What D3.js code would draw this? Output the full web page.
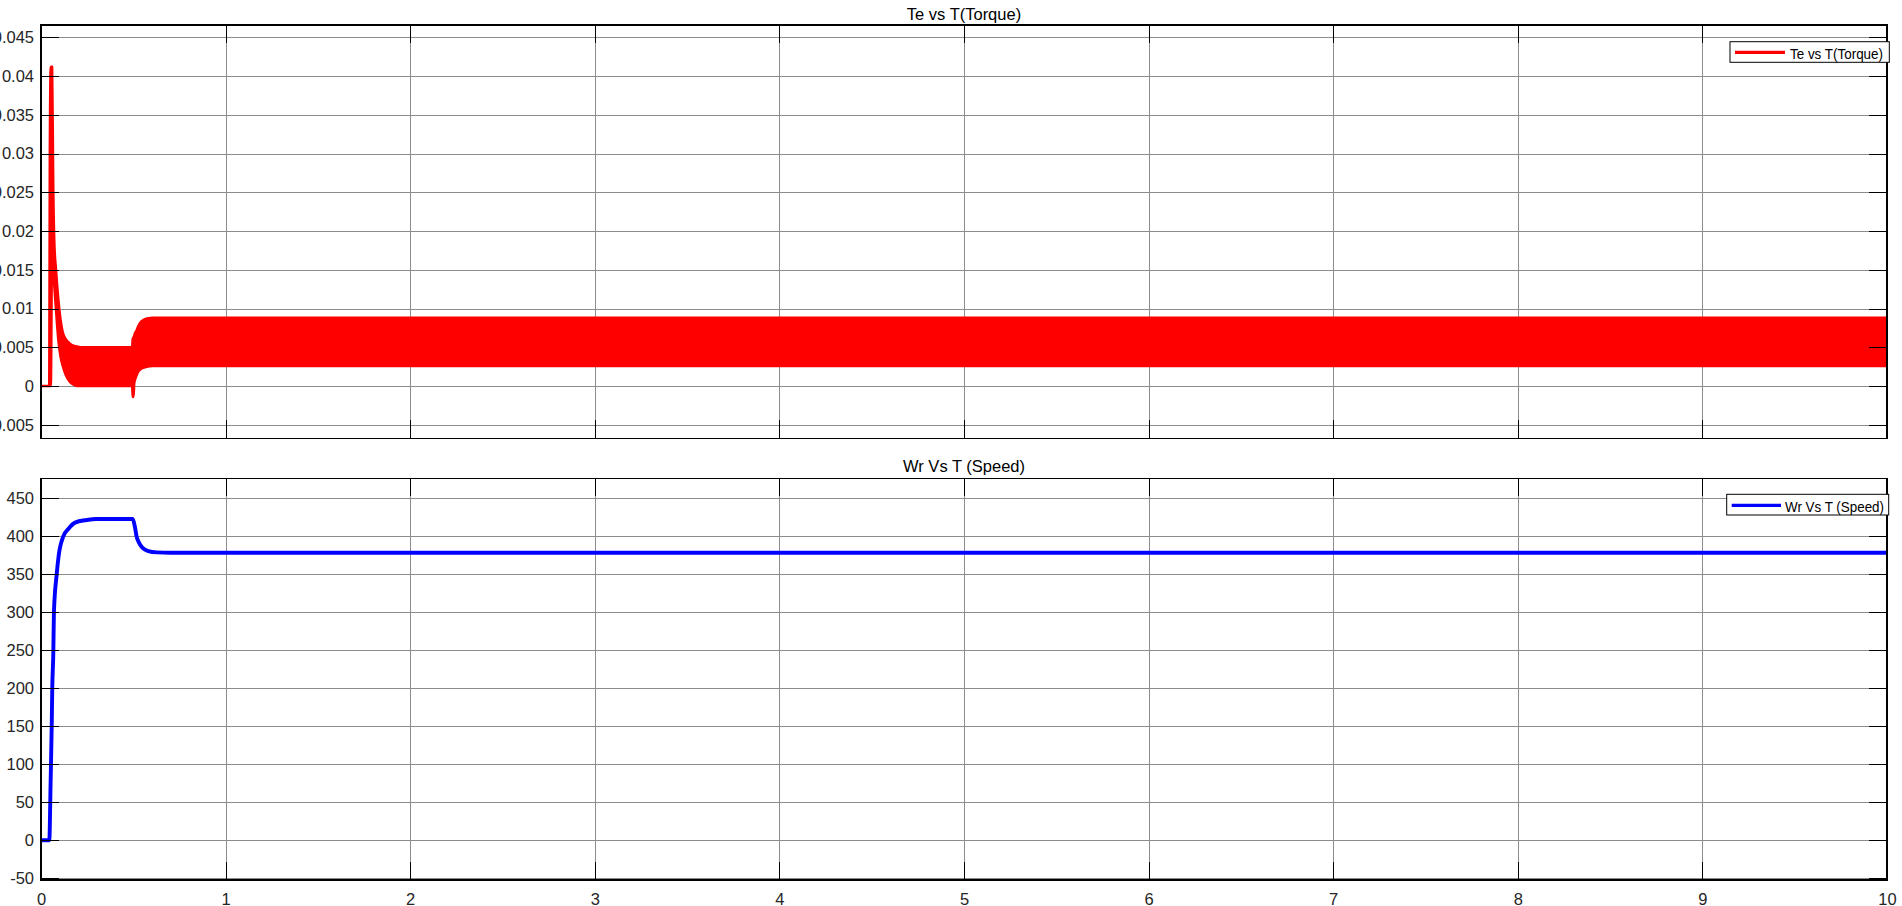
<!DOCTYPE html>
<html>
<head>
<meta charset="utf-8">
<script src="https://cdn.jsdelivr.net/npm/d3@7"></script>
<style>
  html, body { margin: 0; padding: 0; background: #fff; overflow: hidden; }
  svg { display: block; font-family: "Liberation Sans", Arial, sans-serif; }
</style>
</head>
<body>
<svg id="chart" width="1902" height="906"></svg>
<script>
// ---------- data ----------
const xTicks = [0, 1, 2, 3, 4, 5, 6, 7, 8, 9, 10];
const xTickLabels = ["0", "1", "2", "3", "4", "5", "6", "7", "8", "9", "10"];

const torqueTicks = [-0.005, 0, 0.005, 0.01, 0.015, 0.02, 0.025, 0.03, 0.035, 0.04, 0.045];
const torqueTickLabels = ["-0.005", "0", "0.005", "0.01", "0.015", "0.02", "0.025", "0.03", "0.035", "0.04", "0.045"];

const speedTicks = [-50, 0, 50, 100, 150, 200, 250, 300, 350, 400, 450];
const speedTickLabels = ["-50", "0", "50", "100", "150", "200", "250", "300", "350", "400", "450"];

// Torque: envelope (upper / lower) of the fast oscillating signal
const torqueTime  = [0, 0.045, 0.048, 0.053, 0.060, 0.066, 0.072, 0.081, 0.094, 0.106, 0.118, 0.135, 0.155, 0.175, 0.193, 0.215, 0.30, 0.40, 0.494, 0.497, 0.501, 0.505, 0.509, 0.518, 0.527, 0.536, 0.554, 0.573, 0.608, 0.65, 1, 2, 3, 4, 5, 6, 7, 8, 9, 10];
const torqueUpper = [0, 0, 0.030, 0.0412, 0.0412, 0.026, 0.0185, 0.0150, 0.0111, 0.0085, 0.0069, 0.0060, 0.0055, 0.0052, 0.0051, 0.0050, 0.0050, 0.0050, 0.0050, 0.0062, 0.0062, 0.0065, 0.0068, 0.0072, 0.0077, 0.0081, 0.0085, 0.0087, 0.0088, 0.0088, 0.0088, 0.0088, 0.0088, 0.0088, 0.0088, 0.0088, 0.0088, 0.0088, 0.0088, 0.0088];
const torqueLower = [0, 0, 0, 0, 0.018, 0.0150, 0.0130, 0.0100, 0.0060, 0.0038, 0.0026, 0.0014, 0.0006, 0.0002, 0, 0, 0, 0, 0, -0.0014, -0.0014, 0.0004, 0.0008, 0.0014, 0.00185, 0.0021, 0.00236, 0.0025, 0.00258, 0.0026, 0.0026, 0.0026, 0.0026, 0.0026, 0.0026, 0.0026, 0.0026, 0.0026, 0.0026, 0.0026];

// Speed
const speedTime  = [0, 0.045, 0.052, 0.058, 0.061, 0.067, 0.070, 0.085, 0.096, 0.121, 0.148, 0.184, 0.248, 0.30, 0.497, 0.509, 0.518, 0.530, 0.545, 0.563, 0.581, 0.627, 0.70, 1, 2, 3, 4, 5, 6, 7, 8, 9, 10];
const speedValue = [0, 0, 75, 150, 200, 250, 300, 350, 375, 400, 409.6, 418, 421.5, 422.8, 422.8, 412, 399.5, 392, 386.3, 382.5, 380.6, 378.8, 378.4, 378.4, 378.4, 378.4, 378.4, 378.4, 378.4, 378.4, 378.4, 378.4, 378.4];

const titles = ["Te vs T(Torque)", "Wr Vs T (Speed)"];
const legendLabels = ["Te vs T(Torque)", "Wr Vs T (Speed)"];

// ---------- layout ----------
const svg = d3.select("#chart");
const L = 41, R = 1887;
const panels = [
  { top: 25, bottom: 438.3, domain: [-0.00675, 0.04659], ticks: torqueTicks, labels: torqueTickLabels, xLabels: false },
  { top: 478.3, bottom: 880, domain: [-52.2, 476.3], ticks: speedTicks, labels: speedTickLabels, xLabels: true }
];

const x = d3.scaleLinear().domain([0, 10]).range([L, R]);
const gridColor = "#8c8c8c";
const fontSize = 16.5;

panels.forEach((p, i) => {
  const y = d3.scaleLinear().domain(p.domain).range([p.bottom, p.top]);
  const W = R - L, H = p.bottom - p.top;
  const g = svg.append("g");

  // grid
  g.append("g").attr("transform", `translate(${L},0)`)
    .call(d3.axisLeft(y).tickValues(p.ticks).tickSize(-W).tickFormat(""))
    .call(s => s.select(".domain").remove())
    .call(s => s.selectAll("line").attr("stroke", gridColor).attr("shape-rendering", "crispEdges"));
  g.append("g").attr("transform", `translate(0,${p.bottom})`)
    .call(d3.axisBottom(x).tickValues(xTicks).tickSize(-H).tickFormat(""))
    .call(s => s.select(".domain").remove())
    .call(s => s.selectAll("line").attr("stroke", gridColor).attr("shape-rendering", "crispEdges"));

  // data
  const clipId = "clip" + i;
  svg.append("clipPath").attr("id", clipId).append("rect")
    .attr("x", L).attr("y", p.top).attr("width", W).attr("height", H);
  const dg = g.append("g").attr("clip-path", `url(#${clipId})`);
  if (i === 0) {
    const pts = torqueTime.map((t, k) => ({ t, u: torqueUpper[k], l: torqueLower[k] }));
    dg.append("path").datum(pts)
      .attr("d", d3.area().x(d => x(d.t)).y0(d => y(d.l)).y1(d => y(d.u)).curve(d3.curveMonotoneX))
      .attr("fill", "#ff0000").attr("stroke", "#ff0000").attr("stroke-width", 2.6)
      .attr("stroke-linejoin", "round");
  } else {
    const pts = speedTime.map((t, k) => ({ t, v: speedValue[k] }));
    dg.append("path").datum(pts)
      .attr("d", d3.line().x(d => x(d.t)).y(d => y(d.v)).curve(d3.curveMonotoneX))
      .attr("fill", "none").attr("stroke", "#0000ff").attr("stroke-width", 3.9)
      .attr("stroke-linejoin", "round");
  }

  // inward tick marks on all sides
  const tickStyle = s => {
    s.select(".domain").remove();
    s.selectAll("line").attr("stroke", "#000").attr("shape-rendering", "crispEdges");
    s.selectAll("text").attr("fill", "#262626").attr("font-size", fontSize)
      .attr("font-family", '"Liberation Sans", Arial, sans-serif');
  };
  g.append("g").attr("transform", `translate(${L},0)`)
    .call(d3.axisLeft(y).tickValues(p.ticks).tickSize(-18).tickPadding(7)
      .tickFormat((d, k) => p.labels[k]))
    .call(tickStyle);
  g.append("g").attr("transform", `translate(${R},0)`)
    .call(d3.axisRight(y).tickValues(p.ticks).tickSize(-18).tickFormat(""))
    .call(tickStyle);
  g.append("g").attr("transform", `translate(0,${p.top})`)
    .call(d3.axisTop(x).tickValues(xTicks).tickSize(-18).tickFormat(""))
    .call(tickStyle);
  g.append("g").attr("transform", `translate(0,${p.bottom})`)
    .call(d3.axisBottom(x).tickValues(xTicks).tickSize(-18).tickPadding(13.6)
      .tickFormat((d, k) => p.xLabels ? xTickLabels[k] : ""))
    .call(tickStyle);

  // box
  g.append("rect").attr("x", L).attr("y", p.top).attr("width", W).attr("height", H)
    .attr("fill", "none").attr("stroke", "#000").attr("stroke-width", 1.2)
    .attr("shape-rendering", "crispEdges");

  // title
  g.append("text").attr("x", (L + R) / 2).attr("y", i === 0 ? 20 : 471.7)
    .attr("text-anchor", "middle").attr("font-size", fontSize).attr("fill", "#000")
    .text(titles[i]);
});

// legends
const legends = [
  { x0: 1730, x1: 1889.3, y0: 41.7, y1: 62.3, l0: 1735, l1: 1785, ly: 52.3, tx: 1790, ty: 58.6, tw: 93, color: "#ff0000" },
  { x0: 1726.7, x1: 1888.7, y0: 494.3, y1: 515, l0: 1731.7, l1: 1781, ly: 505.3, tx: 1785, ty: 511.8, tw: 99, color: "#0000ff" }
];
legends.forEach((lg, i) => {
  const g = svg.append("g");
  g.append("rect").attr("x", lg.x0).attr("y", lg.y0).attr("width", lg.x1 - lg.x0).attr("height", lg.y1 - lg.y0)
    .attr("fill", "#fff").attr("stroke", "#000").attr("stroke-width", 1);
  g.append("line").attr("x1", lg.l0).attr("x2", lg.l1).attr("y1", lg.ly).attr("y2", lg.ly)
    .attr("stroke", lg.color).attr("stroke-width", 3.2);
  g.append("text").attr("x", lg.tx).attr("y", lg.ty).attr("font-size", 14.5).attr("fill", "#000")
    .attr("textLength", lg.tw).attr("lengthAdjust", "spacingAndGlyphs")
    .text(legendLabels[i]);
});
</script>
</body>
</html>
